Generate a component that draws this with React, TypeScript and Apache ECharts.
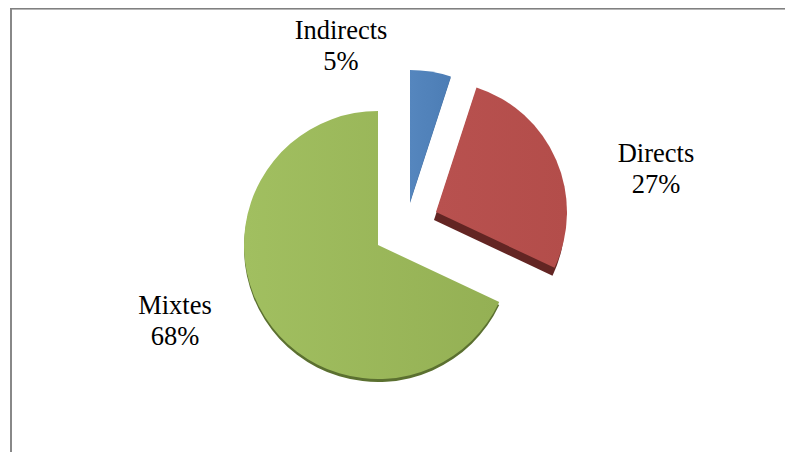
import React, { useEffect, useRef } from "react";
import * as echarts from "echarts";

const categories = ["Indirects", "Directs", "Mixtes"];
const shares = [5, 27, 68];

const faceColors = [
  ["#5586be", "#4c7db5"],
  ["#b8514f", "#b34d4a"],
  ["#a1bf60", "#94b054"],
];
const rimColors = ["#3f6a9c", "#632523", "#5b7030"];
const centers = [[410, 202], [436, 212], [378, 245]];
const radii = [132, 131, 134];
const rimOffsets = [[0, 1], [-2, 8], [0, 3]];
const labelSpots = [[341, 45], [656, 168], [175, 320]];

export default function App() {
  const ref = useRef<HTMLDivElement>(null);
  useEffect(() => {
    document.body.style.margin = "0";
    const chart = echarts.init(ref.current!, undefined, { renderer: "svg" });
    const total = shares.reduce((a, b) => a + b, 0);
    let angle = 90;
    const series: any[] = [];
    categories.forEach((name, i) => {
      const start = angle;
      const end = angle - (shares[i] / total) * 360;
      angle = end;
      const base = {
        type: "pie",
        clockwise: true,
        startAngle: start,
        endAngle: end,
        radius: radii[i],
        silent: true,
        avoidLabelOverlap: false,
      };
      series.push({
        ...base,
        center: [centers[i][0] + rimOffsets[i][0], centers[i][1] + rimOffsets[i][1]],
        data: [{ name: name + " rim", value: shares[i] }],
        label: { show: false },
        labelLine: { show: false },
        itemStyle: { color: rimColors[i] },
      });
      series.push({
        ...base,
        center: centers[i],
        data: [{ name, value: shares[i] }],
        label: {
          show: true,
          formatter: "{b}\n{c}%",
          fontFamily: "Liberation Serif",
          fontSize: 26.5,
          lineHeight: 31,
          color: "#000",
          align: "center",
        },
        labelLine: { show: false },
        labelLayout: {
          x: labelSpots[i][0],
          y: labelSpots[i][1],
          align: "center",
          verticalAlign: "middle",
        },
        itemStyle: {
          color: new echarts.graphic.LinearGradient(0, 0, 1, 0, [
            { offset: 0, color: faceColors[i][0] },
            { offset: 1, color: faceColors[i][1] },
          ]),
        },
      });
    });
    chart.setOption({
      animation: false,
      backgroundColor: "#fff",
      graphic: [
        { type: "rect", shape: { x: 10, y: 8, width: 2, height: 444 }, style: { fill: "#888" } },
        { type: "rect", shape: { x: 10, y: 8, width: 775, height: 1 }, style: { fill: "#808080" } },
        { type: "rect", shape: { x: 12, y: 9, width: 773, height: 1 }, style: { fill: "#b5b5b5" } },
      ],
      series,
    });
    return () => chart.dispose();
  }, []);
  return <div ref={ref} style={{ width: 785, height: 452, position: "absolute", left: 0, top: 0 }} />;
}
